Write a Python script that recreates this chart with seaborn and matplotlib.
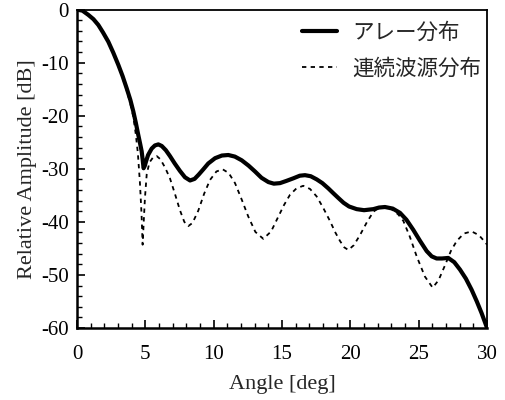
import numpy as np
import pandas as pd
import matplotlib
matplotlib.use("Agg")
import matplotlib.pyplot as plt
from matplotlib.ticker import MultipleLocator
import seaborn as sns

# Array (discrete element) beam pattern
array_angle = [0.0, 0.4, 0.83, 1.2, 1.56, 1.9, 2.29, 2.65, 3.02, 3.33,
               3.63, 3.9, 4.12, 4.3, 4.48, 4.62, 4.73, 4.8, 4.87, 4.95,
               5.05, 5.2, 5.46, 5.7, 5.95, 6.2, 6.5, 6.8, 7.15, 7.53,
               7.9, 8.27, 8.6, 8.9, 9.24, 9.6, 10.1, 10.6, 11.07, 11.55,
               12.05, 12.55, 13.02, 13.5, 14.0, 14.4, 14.85, 15.3, 15.82, 16.3,
               16.68, 17.1, 17.54, 17.95, 18.39, 18.75, 19.12, 19.5, 19.9, 20.46,
               21.0, 21.68, 22.1, 22.53, 23.1, 23.63, 24.1, 24.6, 25.1, 25.58,
               25.95, 26.31, 26.7, 27.16, 27.6, 28.02, 28.45, 28.87, 29.25, 29.6,
               30.0]
array_db = [0.0, -0.2, -1.0, -1.8, -2.9, -4.3, -6.05, -8.1, -10.4, -12.5,
            -14.8, -17.0, -19.2, -21.3, -23.6, -25.3, -26.7, -28.2, -29.9, -29.5,
            -28.6, -27.4, -26.2, -25.6, -25.4, -25.7, -26.5, -27.6, -29.0, -30.4,
            -31.6, -32.2, -31.9, -31.1, -30.1, -29.0, -28.0, -27.5, -27.4, -27.7,
            -28.4, -29.4, -30.5, -31.7, -32.5, -32.8, -32.7, -32.3, -31.8, -31.3,
            -31.2, -31.4, -32.0, -32.7, -33.7, -34.6, -35.5, -36.4, -37.1, -37.6,
            -37.8, -37.6, -37.3, -37.2, -37.5, -38.3, -39.6, -41.5, -43.6, -45.5,
            -46.5, -46.9, -46.9, -46.8, -47.6, -49.0, -50.7, -52.8, -55.0, -57.2,
            -60.0]

# Continuous source distribution beam pattern
cont_angle = [0.0, 0.4, 0.83, 1.2, 1.56, 1.9, 2.29, 2.65, 3.02, 3.33,
              3.63, 3.9, 4.12, 4.3, 4.45, 4.6, 4.72, 4.8, 4.88, 4.97,
              5.1, 5.3, 5.55, 5.83, 6.1, 6.45, 6.8, 7.15, 7.53, 7.85,
              8.14, 8.45, 8.87, 9.3, 9.73, 10.2, 10.66, 11.1, 11.56, 12.05,
              12.53, 13.05, 13.63, 14.2, 14.73, 15.15, 15.58, 16.05, 16.55, 17.05,
              17.53, 18.0, 18.5, 18.9, 19.24, 19.55, 19.85, 20.25, 20.7, 21.2,
              21.68, 22.1, 22.53, 23.0, 23.5, 23.87, 24.35, 24.85, 25.45, 26.02,
              26.45, 26.92, 27.35, 27.78, 28.3, 28.87, 29.4, 29.85, 30.0]
cont_db = [0.0, -0.2, -1.0, -1.8, -2.9, -4.3, -6.1, -8.2, -10.6, -12.8,
           -15.2, -17.7, -20.2, -23.5, -27.0, -32.5, -38.5, -44.3, -40.0, -35.5,
           -31.0, -28.8, -27.9, -27.6, -28.2, -29.8, -31.8, -34.6, -37.8, -40.0,
           -40.8, -40.2, -37.9, -34.7, -32.1, -30.5, -30.1, -30.8, -32.7, -35.8,
           -39.0, -41.9, -43.2, -41.8, -39.0, -36.8, -34.9, -33.7, -33.2, -33.8,
           -35.2, -37.3, -39.8, -42.0, -43.6, -44.8, -45.3, -44.4, -42.5, -40.1,
           -38.1, -37.3, -37.2, -37.6, -38.6, -39.8, -42.8, -46.5, -50.3, -52.4,
           -51.0, -48.2, -45.5, -43.6, -42.2, -41.8, -42.5, -43.8, -44.3]

labels = ["アレー分布", "連続波源分布"]

sns.set_style("ticks")
plt.rcParams["font.family"] = ["Liberation Serif", "Noto Sans CJK JP"]
plt.rcParams["axes.unicode_minus"] = False

fig = plt.figure(figsize=(5.05, 4.0), dpi=100)
ax = fig.add_axes([0.1525, 0.18, 0.812, 0.796])

df_a = pd.DataFrame({"angle": array_angle, "db": array_db})
df_c = pd.DataFrame({"angle": cont_angle, "db": cont_db})

sns.lineplot(data=df_a, x="angle", y="db", ax=ax, color="black", lw=3.0,
             sort=False, label=labels[0])
sns.lineplot(data=df_c, x="angle", y="db", ax=ax, color="black", lw=1.3,
             sort=False, label=labels[1], linestyle=(0, (2.4, 2.4)))

ax.set_xlim(0, 30)
ax.set_ylim(-60, 0)
ax.xaxis.set_major_locator(MultipleLocator(5))
ax.xaxis.set_minor_locator(MultipleLocator(1))
ax.yaxis.set_major_locator(MultipleLocator(10))
ax.yaxis.set_minor_locator(MultipleLocator(2))
ax.tick_params(which="both", direction="in", top=False, right=False,
               labelsize=15, colors="black")
ax.tick_params(which="major", length=6, width=1.2)
ax.tick_params(axis="y", which="major", pad=6)
ax.tick_params(axis="x", which="major", pad=12)
ax.tick_params(which="minor", length=3.5, width=1.0)

for side in ["left", "bottom"]:
    ax.spines[side].set_linewidth(1.8)
for side in ["top", "right"]:
    ax.spines[side].set_linewidth(1.3)
for s in ax.spines.values():
    s.set_color("black")

ax.set_xlabel("Angle [deg]", fontsize=16, labelpad=8)
ax.set_ylabel("Relative Amplitude [dB]", fontsize=16, labelpad=3)

leg = ax.legend(loc="upper right", bbox_to_anchor=(1.0, 0.978), frameon=False,
                handlelength=1.6, handletextpad=0.75, labelspacing=0.62,
                borderaxespad=0.0, borderpad=0.25,
                prop={"family": "Noto Sans CJK JP", "size": 15.5})

fig.savefig("out.png", dpi=100)
